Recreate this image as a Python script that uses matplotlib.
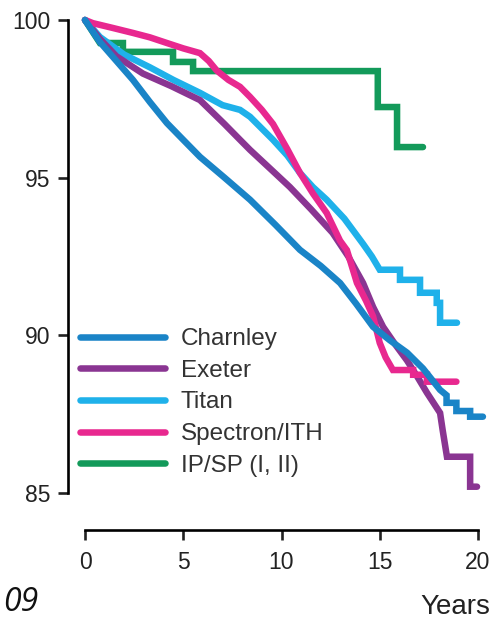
import matplotlib
matplotlib.use("Agg")
import matplotlib.pyplot as plt

plt.rcParams["font.family"] = ["Liberation Sans", "DejaVu Sans"]

# survival (%), by implant
charnley_yr = [0, 0.76, 1.6, 2.44, 3.3, 4.17, 5, 5.85, 7.1, 8.4, 9.7, 10.94, 12,
               12.98, 13.8, 14.66, 15.5, 16.39, 17.2, 18.07, 18.4, 18.4, 18.9, 18.9,
               19.6, 19.6, 20.25]
charnley_val = [100, 99.3, 98.7, 98.1, 97.4, 96.73, 96.2, 95.66, 95.0, 94.3, 93.5,
                92.71, 92.2, 91.66, 91.0, 90.27, 89.85, 89.45, 88.95, 88.27, 88.1,
                87.86, 87.86, 87.6, 87.6, 87.42, 87.42]

exeter_yr = [0, 0.76, 1.6, 2.95, 4.4, 5.85, 7.1, 7.89, 8.4, 9.4, 10.43, 11.5, 12.6,
             13.4, 14.15, 14.66, 15.17, 15.8, 16.39, 16.9, 17.4, 18.07, 18.2, 18.42,
             19.6, 19.6, 19.95]
exeter_val = [100, 99.4, 98.85, 98.3, 97.9, 97.46, 96.7, 96.2, 95.88, 95.3, 94.7,
              94.0, 93.25, 92.5, 91.66, 90.9, 90.27, 89.7, 89.2, 88.7, 88.18, 87.54,
              87.0, 86.15, 86.15, 85.2, 85.2]

titan_yr = [0, 0.76, 2, 3.3, 4.5, 5.85, 7, 7.89, 8.4, 9.57, 10.3, 10.94, 11.6, 12.3,
            13.2, 14.15, 14.6, 15.0, 16.03, 16.03, 17.05, 17.05, 17.9, 17.9, 18.07,
            18.07, 18.93]
titan_val = [100, 99.46, 98.9, 98.5, 98.1, 97.69, 97.3, 97.15, 96.93, 96.2, 95.7,
             95.15, 94.7, 94.3, 93.7, 92.9, 92.5, 92.08, 92.08, 91.76, 91.76, 91.35,
             91.35, 91.03, 91.03, 90.4, 90.4]

spectron_yr = [0, 0.4, 1.4, 2.44, 3.3, 4.17, 5, 5.85, 6.3, 6.7, 7.3, 7.89, 8.4, 9.0,
               9.57, 10.3, 10.94, 11.6, 12.3, 12.98, 13.33, 13.84, 14.3, 14.66, 15.0,
               15.3, 15.67, 16.7, 16.7, 17.4, 17.4, 18.9]
spectron_val = [100, 99.9, 99.75, 99.59, 99.45, 99.27, 99.1, 98.95, 98.7, 98.4, 98.1,
                97.88, 97.56, 97.15, 96.7, 95.9, 95.15, 94.5, 93.88, 93.0, 92.7, 91.66,
                91.1, 90.6, 89.76, 89.3, 88.9, 88.9, 88.75, 88.75, 88.53, 88.53]

ipsp_yr = [0, 0.76, 1.93, 1.93, 4.48, 4.48, 5.5, 5.5, 14.9, 14.9, 15.88, 15.88, 17.2]
ipsp_val = [100, 99.27, 99.27, 98.99, 98.99, 98.67, 98.67, 98.38, 98.38, 97.24, 97.24,
            95.97, 95.97]

x_ticks = [0, 5, 10, 15, 20]
y_ticks = [85, 90, 95, 100]

series = [
    ("IP/SP (I, II)", ipsp_yr, ipsp_val, "#139a5a"),
    ("Titan", titan_yr, titan_val, "#1fb1ea"),
    ("Exeter", exeter_yr, exeter_val, "#8a3592"),
    ("Spectron/ITH", spectron_yr, spectron_val, "#e8288f"),
    ("Charnley", charnley_yr, charnley_val, "#1a84c7"),
]
legend_order = ["Charnley", "Exeter", "Titan", "Spectron/ITH", "IP/SP (I, II)"]

W, H = 491, 620
fig = plt.figure(figsize=(W / 100, H / 100), dpi=100)
ax = fig.add_axes([85 / W, 1 - 493 / H, 393 / W, 473 / H])

handles = {}
for name, xs, ys, col in series:
    (ln,) = ax.plot(xs, ys, color=col, lw=4.7, solid_capstyle="round",
                    solid_joinstyle="miter", clip_on=False, label=name)
    handles[name] = ln

ax.set_xlim(0, 20)
ax.set_ylim(85, 100)
ax.set_xticks(x_ticks)
ax.set_yticks(y_ticks)

for s in ["top", "right"]:
    ax.spines[s].set_visible(False)
ax.spines["left"].set_position(("outward", 12.2))
ax.spines["bottom"].set_position(("outward", 26.6))
ax.spines["left"].set_bounds(85, 100)
ax.spines["bottom"].set_bounds(0, 20)
for s in ["left", "bottom"]:
    ax.spines[s].set_linewidth(1.9)
ax.tick_params(width=1.9, length=7, labelsize=16.5, colors="#222222")
ax.tick_params(axis="y", pad=6)
ax.tick_params(axis="x", pad=8)

leg = ax.legend([handles[n] for n in legend_order], legend_order,
                loc="upper left", bbox_to_anchor=(80 / W, 1 - 328 / H),
                bbox_transform=fig.transFigure, frameon=False, fontsize=17.5,
                handlelength=3.5, handletextpad=0.65, labelspacing=0.4,
                borderpad=0, borderaxespad=0)
for t in leg.get_texts():
    t.set_color("#333333")

fig.text(490 / W, 6 / H, "Years", ha="right", va="baseline", fontsize=20,
         color="#222222")
fig.text(38 / W, 1 / H, "09", ha="right", va="bottom", fontsize=23,
         style="italic", family=["Open Sans", "DejaVu Sans"], color="#111111")

fig.savefig("out.png", dpi=100, facecolor="white")
